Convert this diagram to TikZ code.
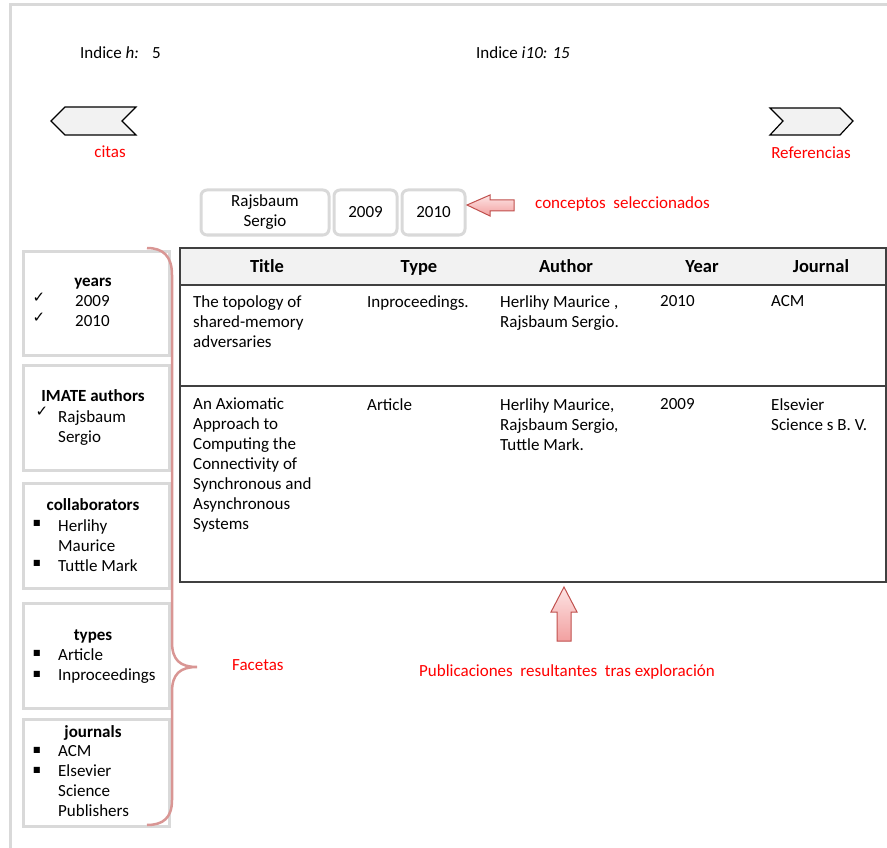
\documentclass[tikz,border=0pt]{standalone}
\usepackage{fontspec}
\setmainfont{Carlito}
\newfontfamily\symfont{DejaVu Sans}
\definecolor{framegray}{HTML}{D9D9D9}
\definecolor{notered}{HTML}{FF0000}
\definecolor{bracered}{HTML}{D99694}
\definecolor{arrowline}{HTML}{C0504D}
\definecolor{arrowdark}{HTML}{F2A0A0}
\definecolor{arrowlight}{HTML}{FDE4E4}
\definecolor{headgray}{HTML}{F2F2F2}
\definecolor{tableline}{HTML}{404040}
\newcommand{\chk}{{\symfont\fontsize{15}{15}\selectfont ✓}}
\newcommand{\sqb}{{\symfont\fontsize{8}{8}\selectfont ■}}
\begin{document}
\begin{tikzpicture}[x=1pt,y=-1pt]
\tikzstyle{every node}+=[inner sep=0pt, font=\fontsize{17}{20}\selectfont]
\tikzstyle{facet}=[draw=framegray, line width=3pt, fill=white, minimum width=146pt, anchor=north west]
\tikzstyle{concept}=[draw=framegray, line width=3pt, rounded corners=6pt, minimum height=45pt, align=center, anchor=north west]
\tikzstyle{facettitle}=[font=\fontsize{17}{20}\selectfont\bfseries, anchor=base]
\tikzstyle{item}=[anchor=north west, align=left]
\tikzstyle{note}=[text=notered, anchor=base]
\tikzstyle{head}=[font=\fontsize{18.5}{20}\selectfont\bfseries, anchor=base]
\tikzstyle{chevron}=[draw=black, line width=1.2pt, fill=headgray]
\tikzstyle{blockarrow}=[draw=arrowline, line width=1pt, top color=arrowlight, bottom color=arrowdark]
\useasboundingbox (0,0) rectangle (887,848);
\clip (0,0) rectangle (887,848);
\draw [framegray, line width=3pt] (10,5) rectangle (900,860);
\node [anchor=base west] (hindex) at (80,59) {Indice \textit{h:}};
\node [anchor=base west] (hvalue) at (152,59) {5};
\node [anchor=base west] (iindex) at (476,59) {Indice \textit{i10: 15}};
\draw [chevron] (51,121) -- (65,107) -- (136,107) -- (122,121) -- (136,135) -- (65,135) -- cycle;
\draw [chevron] (770,108) -- (840,108) -- (853,121) -- (840,135) -- (770,135) -- (783,121) -- cycle;
\node [note] (citas) at (110,158) {citas};
\node [note] (refs) at (811,159) {Referencias};
\node [concept, minimum width=128pt] (selauthor) at (199.5,188.5) {Rajsbaum\\Sergio};
\node [concept, minimum width=63pt] (sel2009) at (332.5,188.5) {2009};
\node [concept, minimum width=63pt] (sel2010) at (400.5,188.5) {2010};
\draw [blockarrow] (467,205) -- (490,195) -- (490,200) -- (514,200) -- (514,211) -- (490,211) -- (490,216) -- cycle;
\node [note, anchor=base west] (selnote) at (535,209) {conceptos\ \ seleccionados};
\node [facet, minimum height=104pt] (years) at (21.5,249.5) {};
\node [facet, minimum height=105pt] (imate) at (21.5,363.5) {};
\node [facet, minimum height=105pt] (collab) at (21.5,481.5) {};
\node [facet, minimum height=105pt] (types) at (21.5,601.5) {};
\node [facet, minimum height=107pt] (journals) at (21.5,717.5) {};
\node [facettitle] (yearsT) at (93,286) {years};
\node (chk1) at (39,298) {\chk};
\node (chk2) at (39,318) {\chk};
\node [item] (yearsI) at (75,295) {2009\\2010};
\node [facettitle] (imateT) at (93,401) {IMATE authors};
\node (chk3) at (42,412) {\chk};
\node [item] (imateI) at (58,410) {Rajsbaum\\Sergio};
\node [facettitle] (collabT) at (93,510) {collaborators};
\node (sq1) at (37,523) {\sqb};
\node (sq2) at (37,563) {\sqb};
\node [item] (collabI) at (58,519) {Herlihy\\Maurice\\Tuttle Mark};
\node [facettitle] (typesT) at (93,640) {types};
\node (sq3) at (37,653) {\sqb};
\node (sq4) at (37,674) {\sqb};
\node [item] (typesI) at (58,648) {Article\\Inproceedings};
\node [facettitle] (journalsT) at (93,737) {journals};
\node (sq5) at (37,750) {\sqb};
\node (sq6) at (37,770) {\sqb};
\node [item] (journalsI) at (58,745) {ACM\\Elsevier\\Science\\Publishers};
\draw [bracered, line width=2.5pt] (147,248) .. controls (163,248) and (172,256) .. (172,275) -- (172,642) .. controls (172,660) and (180,667) .. (197,667) .. controls (180,667) and (172,674) .. (172,692) -- (172,800) .. controls (172,818) and (163,825) .. (147,825);
\node [note, anchor=base west] (facetas) at (232,670) {Facetas};
\fill [headgray] (180,248) rectangle (886,285);
\draw [tableline, line width=1.3pt] (180,248) rectangle (886,582);
\draw [tableline, line width=1.3pt] (180,285) -- (886,285);
\draw [tableline, line width=1.3pt] (180,386) -- (886,386);
\node [head] (hTitle) at (267,272) {Title};
\node [head] (hType) at (419,272) {Type};
\node [head] (hAuthor) at (566,272) {Author};
\node [head] (hYear) at (702,272) {Year};
\node [head] (hJournal) at (821,272) {Journal};
\node [item] (r1title) at (193,295) {The topology of\\shared-memory\\adversaries};
\node [item] (r1type) at (367,295) {Inproceedings.};
\node [item] (r1author) at (500,295) {Herlihy Maurice ,\\Rajsbaum Sergio.};
\node [item] (r1year) at (660,295) {2010};
\node [item] (r1journal) at (771,295) {ACM};
\node [item] (r2title) at (193,398) {An Axiomatic\\Approach to\\Computing the\\Connectivity of\\Synchronous and\\Asynchronous\\Systems};
\node [item] (r2type) at (367,398) {Article};
\node [item] (r2author) at (500,398) {Herlihy Maurice,\\Rajsbaum Sergio,\\Tuttle Mark.};
\node [item] (r2year) at (660,398) {2009};
\node [item] (r2journal) at (771,398) {Elsevier\\Science s B. V.};
\draw [blockarrow] (564,587) -- (577,612) -- (571,612) -- (571,641) -- (557,641) -- (557,612) -- (551,612) -- cycle;
\node [note] (resnote) at (567,676) {Publicaciones\ \ resultantes\ \ tras exploración};
\end{tikzpicture}
\end{document}
